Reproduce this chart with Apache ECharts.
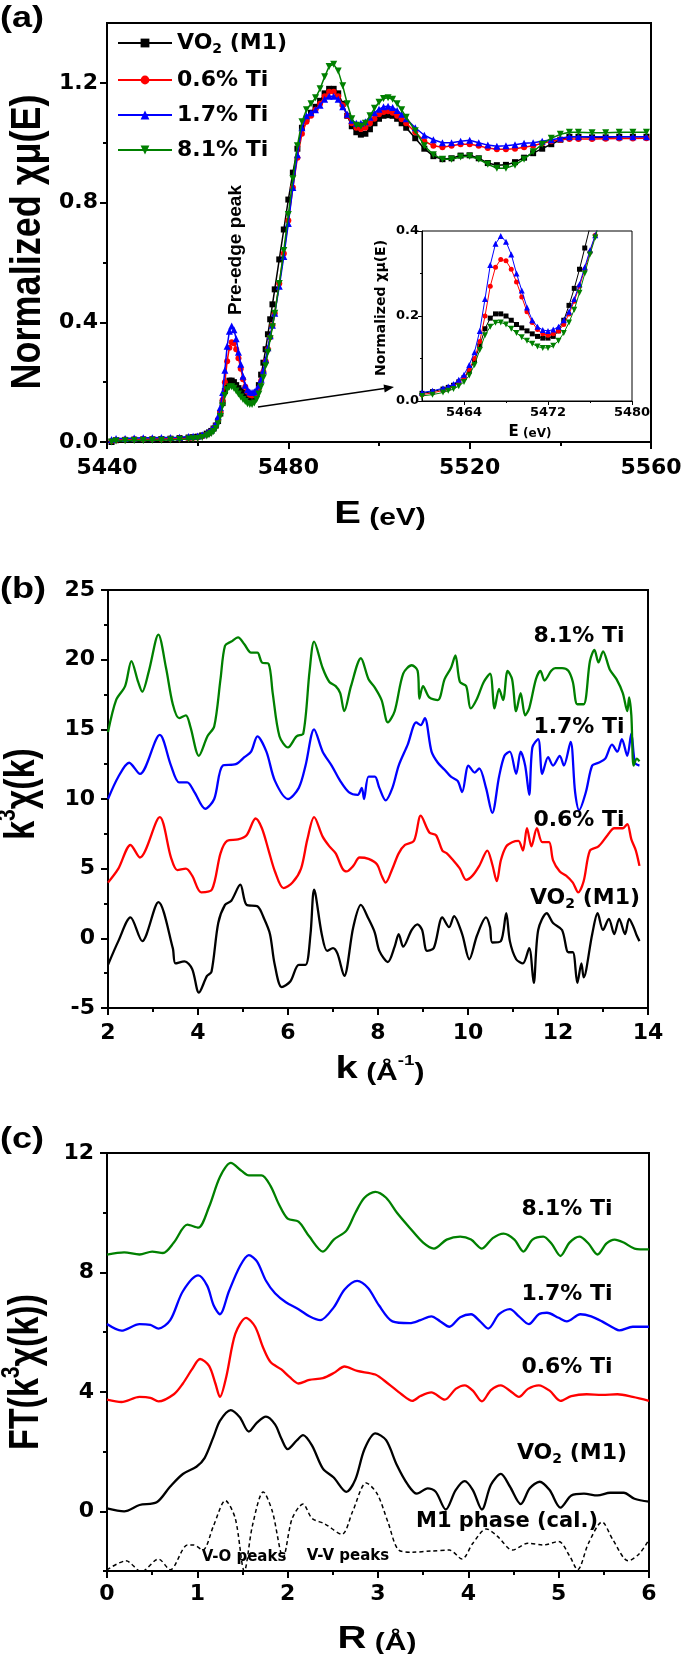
<!DOCTYPE html>
<html><head><meta charset="utf-8">
<script src="https://cdn.jsdelivr.net/npm/echarts@6/dist/echarts.min.js"></script>
<style>html,body{margin:0;padding:0;background:#fff}#c{width:685px;height:1654px}</style>
</head><body><div id="c"></div>
<script>
// ---------------- Panel (a): XANES ----------------
const aE = [5441,5442,5444,5446,5448,5450,5452,5454,5456,5458,5459,5460,5461,
  5462,5462.5,5463,5463.5,5464,5464.5,5465,5465.5,5466,5466.5,5467,5467.5,5468,5468.5,5469,5469.5,5470,5470.5,5471,5471.5,5472,5472.5,5473,5473.5,5474,5474.5,5475,5475.5,5476,5476.5,5477,
  5478,5479,5480,5481,5482,5483,5484,5485,5486,5487,5488,5489,5490,5491,5492,5493,5494,5495,5496,5497,5498,5499,5500,5501,5502,5503,5504,5505,5506,
  5508,5510,5512,5514,5516,5518,5520,5522,5524,5526,5528,5530,5532,5534,5536,5538,5540,5542,5544,5547,5550,5553,5556,5559];
const aVO2 = [0.000,0.006,0.007,0.008,0.009,0.009,0.010,0.011,0.013,0.015,0.016,0.018,0.022,
  0.028,0.032,0.037,0.045,0.055,0.070,0.095,0.130,0.170,0.195,0.205,0.205,0.200,0.190,0.180,0.172,0.165,0.158,0.152,0.148,0.148,0.152,0.165,0.190,0.225,0.265,0.310,0.360,0.410,0.460,0.510,
  0.610,0.710,0.810,0.900,0.980,1.050,1.080,1.100,1.120,1.140,1.165,1.180,1.180,1.165,1.130,1.090,1.055,1.035,1.027,1.030,1.045,1.065,1.080,1.090,1.092,1.090,1.080,1.065,1.050,
  1.015,0.980,0.955,0.945,0.948,0.957,0.958,0.948,0.932,0.925,0.926,0.935,0.950,0.965,0.980,0.995,1.010,1.020,1.020,1.018,1.018,1.020,1.020,1.020];
const aTi06 = [0.003,0.007,0.008,0.009,0.009,0.010,0.010,0.011,0.012,0.013,0.014,0.015,0.019,
  0.025,0.029,0.035,0.044,0.055,0.075,0.100,0.140,0.200,0.270,0.315,0.333,0.330,0.310,0.280,0.245,0.210,0.185,0.168,0.158,0.155,0.158,0.165,0.180,0.205,0.235,0.270,0.310,0.350,0.390,0.430,
  0.530,0.630,0.740,0.850,0.950,1.030,1.070,1.090,1.110,1.130,1.155,1.170,1.170,1.155,1.125,1.090,1.065,1.050,1.046,1.050,1.065,1.080,1.095,1.103,1.105,1.100,1.090,1.078,1.065,
  1.035,1.005,0.990,0.985,0.990,0.995,0.995,0.990,0.982,0.978,0.978,0.980,0.985,0.990,0.998,1.005,1.010,1.012,1.012,1.012,1.013,1.014,1.014,1.015];
const aTi17 = [0.008,0.012,0.012,0.013,0.014,0.014,0.015,0.015,0.016,0.018,0.019,0.020,0.024,
  0.030,0.034,0.040,0.050,0.062,0.085,0.115,0.165,0.240,0.320,0.370,0.388,0.375,0.345,0.300,0.260,0.220,0.190,0.175,0.167,0.165,0.168,0.175,0.190,0.210,0.240,0.275,0.315,0.355,0.390,0.430,
  0.520,0.620,0.730,0.850,0.960,1.050,1.090,1.100,1.110,1.125,1.145,1.155,1.155,1.145,1.120,1.095,1.075,1.065,1.065,1.070,1.085,1.100,1.112,1.120,1.122,1.118,1.108,1.095,1.080,
  1.050,1.025,1.010,1.000,1.000,1.005,1.008,1.000,0.992,0.988,0.990,0.993,0.998,1.000,1.005,1.010,1.015,1.020,1.020,1.020,1.020,1.020,1.020,1.020];
const aTi81 = [0.000,0.003,0.004,0.005,0.005,0.006,0.006,0.007,0.008,0.010,0.011,0.012,0.015,
  0.020,0.024,0.028,0.035,0.045,0.060,0.085,0.120,0.155,0.175,0.184,0.185,0.180,0.170,0.160,0.150,0.142,0.135,0.128,0.125,0.125,0.130,0.142,0.160,0.185,0.215,0.255,0.300,0.345,0.385,0.430,
  0.530,0.640,0.760,0.880,0.990,1.070,1.110,1.130,1.150,1.180,1.220,1.255,1.262,1.240,1.190,1.130,1.080,1.058,1.055,1.065,1.090,1.115,1.135,1.148,1.150,1.145,1.130,1.110,1.085,
  1.040,0.990,0.960,0.945,0.945,0.952,0.955,0.945,0.928,0.915,0.915,0.925,0.945,0.970,0.995,1.015,1.028,1.035,1.035,1.033,1.033,1.035,1.035,1.035];

// ---------------- Panel (b): k^3 chi(k) ----------------
const bK_vo2 = [2,2.23,2.5,2.76,3.12,3.44,3.5,3.7,3.87,4.02,4.2,4.3,4.45,4.6,4.74,4.94,5.08,5.32,5.47,5.6,5.7,5.86,6.05,6.24,6.39,6.5,6.58,6.75,6.87,7.0,7.1,7.25,7.45,7.62,7.79,7.93,8.03,8.22,8.37,8.46,8.56,8.75,8.88,8.98,9.09,9.24,9.43,9.58,9.69,9.87,10.03,10.2,10.4,10.49,10.54,10.73,10.85,10.93,11.07,11.22,11.36,11.46,11.56,11.75,11.89,12.09,12.23,12.33,12.43,12.52,12.57,12.76,12.88,13.0,13.13,13.25,13.36,13.49,13.58,13.68,13.75,13.81];
const bY_vo2 = [-1.9,-0.2,1.5,-0.2,2.6,-0.7,-1.8,-1.65,-2.2,-3.9,-2.7,-2.4,1.1,2.4,2.7,3.85,2.4,2.3,1.4,0.3,-1.8,-3.5,-3.1,-1.9,-1.9,0.3,3.5,0.3,-0.9,-0.7,-1.1,-2.7,0.8,2.4,1.4,0.4,-0.9,-1.7,-0.6,0.3,-0.6,0.6,1.0,0.6,-0.9,-0.7,1.5,0.8,1.6,0.3,-1.5,0.2,1.5,0.8,-0.3,-0.2,1.8,-0.2,-1.5,-1.8,-0.7,-3.2,0.6,1.8,1.1,0.6,-1.0,-1.0,-3.2,-1.8,-2.8,0.3,1.8,0.6,1.4,0.3,1.4,0.3,1.4,0.8,0.2,-0.2];
const bK_06 = [2,2.23,2.5,2.71,3.15,3.4,3.54,3.73,3.87,4.07,4.31,4.5,4.65,4.89,5.08,5.28,5.42,5.57,5.71,5.9,6.1,6.29,6.43,6.58,6.77,6.92,7.06,7.21,7.3,7.45,7.59,7.79,7.98,8.08,8.17,8.32,8.46,8.6,8.8,8.95,9.14,9.29,9.43,9.53,9.67,9.82,9.96,10.1,10.25,10.43,10.54,10.64,10.73,10.85,10.98,11.12,11.22,11.31,11.41,11.53,11.65,11.8,11.89,12.04,12.18,12.33,12.45,12.57,12.71,12.9,13.1,13.25,13.44,13.54,13.63,13.73,13.81];
const bY_06 = [4.0,5.0,6.7,5.8,8.7,5.8,4.9,5.0,4.5,3.3,3.5,6.1,7.0,7.1,7.4,8.6,7.9,6.3,4.8,3.6,4.0,5.0,7.1,8.7,7.3,6.6,6.1,5.0,4.8,5.2,5.8,5.7,5.3,4.5,4.0,5.0,6.1,6.7,7.0,8.8,7.6,7.4,6.3,6.1,5.6,5.0,4.2,4.5,5.2,6.3,5.3,4.1,5.6,6.6,6.9,7.0,6.3,7.9,6.6,7.9,6.9,6.9,5.6,4.8,4.5,4.0,3.3,4.1,6.3,6.6,7.4,7.9,7.9,8.2,7.1,6.3,5.2];
const bK_17 = [2,2.23,2.47,2.71,3.15,3.4,3.58,3.76,3.92,4.16,4.36,4.55,4.84,5.03,5.18,5.32,5.52,5.71,6.0,6.24,6.39,6.58,6.77,6.97,7.16,7.35,7.55,7.64,7.69,7.79,7.93,8.03,8.17,8.32,8.46,8.66,8.85,8.95,9.04,9.19,9.33,9.48,9.62,9.77,9.87,10.01,10.15,10.25,10.4,10.54,10.69,10.81,10.93,11.07,11.17,11.27,11.36,11.43,11.56,11.65,11.78,11.89,12.04,12.13,12.28,12.38,12.47,12.62,12.76,12.9,13.05,13.2,13.32,13.42,13.54,13.63,13.71,13.81];
const bY_17 = [10.0,11.6,12.6,11.8,14.6,12.4,11.2,11.2,10.5,9.3,10.0,12.4,12.5,13.0,13.4,14.5,13.4,11.3,10.0,10.8,12.4,15.0,13.4,12.4,11.3,10.5,10.3,10.8,10.0,11.6,11.6,10.8,9.9,10.8,12.4,13.9,15.5,15.3,15.8,13.4,12.6,12.1,11.6,11.3,10.5,12.4,11.9,12.2,10.8,9.0,11.6,13.1,13.4,11.8,13.4,12.4,10.3,13.7,14.3,11.8,13.0,12.4,13.1,12.4,14.1,10.5,9.2,10.5,12.4,12.6,12.9,13.9,13.4,14.3,13.1,14.7,12.6,12.4];
const bK_81 = [2,2.18,2.38,2.52,2.67,2.76,2.91,3.12,3.29,3.44,3.58,3.73,3.83,4.02,4.21,4.36,4.5,4.6,4.74,4.89,5.03,5.18,5.32,5.42,5.57,5.66,5.81,6.0,6.19,6.34,6.48,6.58,6.77,6.92,7.06,7.16,7.25,7.4,7.62,7.79,7.93,8.08,8.22,8.37,8.56,8.75,8.88,8.92,9.0,9.14,9.33,9.48,9.62,9.72,9.82,9.96,10.06,10.2,10.35,10.49,10.59,10.69,10.78,10.88,10.98,11.07,11.17,11.27,11.36,11.51,11.61,11.7,11.85,11.94,12.09,12.23,12.33,12.43,12.57,12.71,12.81,12.9,13.0,13.15,13.3,13.44,13.54,13.58,13.63,13.68,13.75,13.81];
const bY_81 = [14.8,17.1,18.1,19.9,18.4,17.7,19.2,21.8,19.4,16.8,15.8,16.0,15.2,13.1,14.5,15.2,18.6,21.0,21.3,21.6,21.1,20.5,20.5,19.8,19.7,17.6,14.5,13.7,14.5,14.7,19.2,21.3,19.4,18.4,18.1,17.6,16.3,18.1,20.1,18.6,18.0,17.1,15.5,16.3,19.0,19.6,19.2,17.2,18.1,17.3,17.1,18.6,19.4,20.3,18.4,18.1,16.5,17.2,18.4,19.0,16.5,17.9,17.1,19.2,18.6,16.3,17.6,16.0,16.5,18.6,19.2,18.5,19.2,19.4,19.4,19.2,18.4,16.8,16.8,19.9,20.7,19.8,20.6,19.3,18.6,17.6,16.3,17.3,16.0,12.4,12.9,12.7];

// ---------------- Panel (c): FT ----------------
const cR_81 = [0,0.19,0.36,0.5,0.62,0.74,0.89,1.01,1.13,1.25,1.37,1.49,1.57,1.71,1.81,1.9,2.0,2.12,2.24,2.39,2.51,2.65,2.75,2.85,2.97,3.09,3.21,3.35,3.5,3.62,3.76,3.91,4.03,4.15,4.27,4.39,4.51,4.61,4.71,4.83,4.92,5.02,5.12,5.23,5.33,5.43,5.53,5.62,5.72,5.84,6.0];
const cY_81 = [8.6,8.67,8.6,8.7,8.65,9.0,9.6,9.5,10.2,11.2,11.67,11.4,11.25,11.25,10.9,10.3,9.8,9.7,9.2,8.7,9.1,9.4,10.0,10.5,10.7,10.5,10.0,9.5,9.0,8.8,9.1,9.2,9.1,8.8,9.15,9.3,9.1,8.7,9.1,9.2,8.97,8.55,9.0,9.2,8.97,8.6,8.97,9.1,9.0,8.8,8.77];
const cR_17 = [0,0.16,0.36,0.48,0.57,0.7,0.84,1.01,1.11,1.18,1.25,1.35,1.47,1.57,1.66,1.76,1.86,1.98,2.12,2.24,2.36,2.51,2.63,2.77,2.89,3.01,3.16,3.35,3.47,3.59,3.69,3.79,3.91,4.03,4.13,4.22,4.34,4.46,4.56,4.67,4.78,4.87,5.0,5.09,5.24,5.36,5.48,5.62,5.67,5.82,6.0];
const cY_17 = [6.27,6.05,6.27,6.24,6.12,6.4,7.37,7.9,7.55,6.9,6.6,7.37,8.2,8.58,8.37,7.72,7.3,7.0,6.77,6.53,6.4,6.83,7.43,7.72,7.48,6.9,6.36,6.3,6.4,6.53,6.36,6.18,6.5,6.6,6.36,6.12,6.6,6.77,6.53,6.27,6.6,6.65,6.48,6.36,6.6,6.53,6.36,6.12,6.06,6.18,6.18];
const cR_06 = [0,0.16,0.36,0.48,0.57,0.74,0.84,0.94,1.03,1.13,1.2,1.25,1.32,1.42,1.54,1.64,1.73,1.81,1.93,2.02,2.12,2.24,2.39,2.51,2.63,2.77,2.97,3.11,3.26,3.38,3.47,3.59,3.74,3.86,3.96,4.05,4.15,4.25,4.36,4.46,4.56,4.66,4.78,4.9,5.02,5.14,5.31,5.48,5.65,5.82,6.0];
const cY_06 = [3.74,3.66,3.83,3.8,3.68,3.92,4.28,4.75,5.1,4.87,4.28,3.83,4.5,5.94,6.48,6.18,5.47,5.0,4.75,4.5,4.28,4.4,4.46,4.63,4.85,4.7,4.58,4.28,3.92,3.7,3.86,3.98,3.74,4.1,4.22,4.04,3.68,4.06,4.22,4.04,3.83,4.1,4.22,4.04,3.7,3.86,3.92,3.9,3.92,3.83,3.7];
const cR_vo2 = [0,0.19,0.36,0.55,0.7,0.84,0.99,1.08,1.18,1.25,1.37,1.47,1.57,1.66,1.76,1.86,1.93,2.0,2.1,2.17,2.27,2.39,2.51,2.65,2.75,2.85,2.97,3.09,3.21,3.33,3.43,3.55,3.64,3.75,3.86,3.96,4.05,4.15,4.25,4.36,4.46,4.58,4.68,4.79,4.9,5.02,5.14,5.28,5.43,5.57,5.72,5.84,6.0];
const cY_vo2 = [0.1,0.0,0.21,0.3,0.83,1.25,1.49,1.78,2.5,3.03,3.39,3.15,2.67,2.97,3.17,2.91,2.44,2.08,2.37,2.55,2.2,1.43,1.13,0.65,1.07,2.08,2.61,2.38,1.54,0.89,0.59,0.77,0.65,0.06,0.71,1.01,0.71,0.06,0.89,1.25,0.83,0.24,0.77,0.99,0.71,0.12,0.53,0.59,0.53,0.62,0.62,0.42,0.32];
const cR_cal = [0,0.21,0.38,0.57,0.7,0.89,0.96,1.06,1.18,1.31,1.42,1.52,1.61,1.73,1.83,1.95,2.05,2.17,2.27,2.41,2.6,2.72,2.87,2.99,3.11,3.23,3.38,3.59,3.79,3.93,4.05,4.2,4.32,4.49,4.66,4.83,5.0,5.12,5.21,5.33,5.48,5.6,5.77,5.89,6.0];
const cY_cal = [-1.96,-1.66,-2.02,-1.6,-1.96,-1.13,-1.13,-1.3,-0.48,0.36,-0.24,-2.0,-0.48,0.65,0.0,-1.54,-0.24,0.24,-0.24,-0.42,-0.77,0.0,0.95,0.59,-0.36,-1.3,-1.37,-1.33,-1.3,-1.6,-1.07,-0.59,-0.83,-1.3,-1.07,-1.13,-1.01,-1.49,-1.96,-1.07,-0.36,-0.95,-1.66,-1.43,-0.95];

// tick labels
const aYLabels = [0, 0.4, 0.8, 1.2];
const aYMinor = [0.2, 0.6, 1.0];
const insetXLabels = [5464, 5472, 5480];
const insetXMinor = [5468, 5476];
const cYLabels = [0, 4, 8, 12];
const cYMinor = [-2, 2, 6, 10];

const names = ['VO2 (M1)', '0.6% Ti', '1.7% Ti', '8.1% Ti'];
const colors = ['#000000', '#ff0000', '#0000ff', '#008000'];

// ---------------- chart ----------------
const FT = 'DejaVu Sans';
const FA = 'Liberation Sans';
const chart = echarts.init(document.getElementById('c'), null, {renderer: 'canvas', width: 685, height: 1654});
function pairs(xs, ys) { return xs.map((x, i) => [x, ys[i]]); }
const plain = v => String(v);

function valAxis(gridIndex, min, max, interval, o) {
  o = o || {};
  const w = o.w || 2;
  const tick = {show: true, length: o.tick || 7, lineStyle: {color: '#000', width: w}};
  if (o.tickValues) tick.customValues = o.tickValues;
  const lab = {show: o.label !== false, color: '#000', fontFamily: FT, fontWeight: 'bold',
    fontSize: o.fs || 22, margin: o.margin || 10, formatter: o.fmt || plain};
  if (o.labelValues) lab.customValues = o.labelValues;
  return {
    type: 'value', gridIndex, min, max, interval, position: o.position,
    axisLine: {show: true, onZero: false, lineStyle: {color: '#000', width: w}},
    axisTick: tick,
    minorTick: {show: o.minor !== false, splitNumber: 2, length: o.minorLen || 4, lineStyle: {color: '#000', width: w}},
    splitLine: {show: false}, minorSplitLine: {show: false},
    axisLabel: lab
  };
}
function tickOnly(gridIndex, min, max, values, position, len, w) {
  return {type: 'value', gridIndex, min, max, position,
    axisLine: {show: false, onZero: false}, axisLabel: {show: false},
    splitLine: {show: false},
    axisTick: {show: true, length: len, customValues: values, lineStyle: {color: '#000', width: w}}};
}

const grids = [
  {left: 107, top: 23, width: 544, height: 419},
  {left: 422, top: 231, width: 210, height: 170},
  {left: 108, top: 590, width: 540, height: 418},
  {left: 107, top: 1153, width: 542, height: 418}
].map((g, i) => Object.assign(g, {show: true, borderColor: '#000', borderWidth: i === 1 ? 1 : 2,
  backgroundColor: i === 1 ? '#fff' : 'transparent', outerBoundsMode: 'none', containLabel: false}));

const xAxes = [
  valAxis(0, 5440, 5560, 40, {position: 'bottom', margin: 15, fs: 22}),
  valAxis(1, 5460, 5480, 4, {position: 'bottom', w: 1, tick: 4, minor: false, tickValues: insetXLabels, labelValues: insetXLabels, fs: 13, margin: 5}),
  tickOnly(1, 5460, 5480, insetXMinor, 'bottom', 2, 1),
  valAxis(2, 2, 14, 2, {position: 'bottom', margin: 14}),
  valAxis(3, 0, 6, 1, {position: 'bottom', margin: 12})
];
const yAxes = [
  valAxis(0, 0, 1.4, 0.2, {position: 'left', minor: false, tickValues: aYLabels, labelValues: aYLabels, fmt: v => Number(v).toFixed(1), margin: 9}),
  tickOnly(0, 0, 1.4, aYMinor, 'left', 4, 2),
  valAxis(1, 0, 0.4, 0.2, {position: 'left', w: 1, tick: 4, minorLen: 2, fs: 13, fmt: v => Number(v).toFixed(1), margin: 3}),
  valAxis(2, -5, 25, 5, {position: 'left', margin: 13}),
  valAxis(3, -2, 12, 2, {position: 'left', minor: false, tickValues: cYLabels, labelValues: cYLabels, margin: 13}),
  tickOnly(3, -2, 12, cYMinor, 'left', 4, 2)
];

const aData = [aVO2, aTi06, aTi17, aTi81];
const syms = ['rect', 'circle', 'triangle', 'triangle'];
const rots = [0, 0, 0, 180];
const series = [];
aData.forEach((ys, i) => {
  series.push({name: names[i], type: 'line', xAxisIndex: 0, yAxisIndex: 0, data: pairs(aE, ys),
    symbol: syms[i], symbolRotate: rots[i], symbolSize: i >= 2 ? 7 : 6, showSymbol: true,
    lineStyle: {color: colors[i], width: 1.5}, itemStyle: {color: colors[i]}, z: 2 + i, clip: true});
});
aData.forEach((ys, i) => {
  series.push({name: names[i], type: 'line', xAxisIndex: 1, yAxisIndex: 2, data: pairs(aE, ys),
    symbol: syms[i], symbolRotate: rots[i], symbolSize: i >= 2 ? 6 : 5, showSymbol: true,
    lineStyle: {color: colors[i], width: 1}, itemStyle: {color: colors[i]}, z: 10 + i, clip: true});
});
const bSets = [[bK_vo2, bY_vo2], [bK_06, bY_06], [bK_17, bY_17], [bK_81, bY_81]];
bSets.forEach((s, i) => {
  series.push({name: 'k3chi ' + names[i], type: 'line', xAxisIndex: 3, yAxisIndex: 3, data: pairs(s[0], s[1]),
    showSymbol: false, smooth: 0.3, lineStyle: {color: colors[i], width: 2.3}, clip: true});
});
const cSets = [[cR_vo2, cY_vo2], [cR_06, cY_06], [cR_17, cY_17], [cR_81, cY_81]];
cSets.forEach((s, i) => {
  series.push({name: 'FT ' + names[i], type: 'line', xAxisIndex: 4, yAxisIndex: 4, data: pairs(s[0], s[1]),
    showSymbol: false, smooth: 0.3, lineStyle: {color: colors[i], width: 2.3}, clip: true});
});
series.push({name: 'M1 phase (cal.)', type: 'line', xAxisIndex: 4, yAxisIndex: 4, data: pairs(cR_cal, cY_cal),
  showSymbol: false, smooth: 0.3, lineStyle: {color: '#000', width: 1.5, type: [4, 3]}, clip: true});

const richBase = {
  t: {fontSize: 22, fontFamily: FT, fontWeight: 'bold', color: '#000'},
  s: {fontSize: 14, fontFamily: FT, fontWeight: 'bold', color: '#000', padding: [12, 0, 0, 0]}
};

chart.setOption({
  animation: false,
  backgroundColor: '#fff',
  grid: grids,
  xAxis: xAxes,
  yAxis: yAxes,
  legend: {
    data: names, orient: 'vertical', left: 112, top: 27, itemWidth: 54, itemHeight: 11, itemGap: 13,
    selectedMode: false,
    formatter: n => n === 'VO2 (M1)' ? '{t|VO}{s|2}{t| (M1)}' : '{t|' + n + '}',
    textStyle: {color: '#000', fontFamily: FT, fontWeight: 'bold', fontSize: 22, rich: richBase}
  },
  series: series
});

function txt(x, y, text, o) {
  o = o || {};
  const st = {text, fill: '#000', align: o.align || 'center', verticalAlign: 'middle',
    fontFamily: o.ff || FT, fontWeight: o.fw || 'bold', fontSize: o.fs || 22};
  if (o.rich) st.rich = o.rich;
  return {type: 'text', x, y, rotation: o.rot || 0, scaleX: o.sx || 1, scaleY: o.sy || 1, z: 100, style: st};
}
const R90 = Math.PI / 2;
const bigTitle = {
  b: {fontSize: 34, fontFamily: FA, fontWeight: 'bold', color: '#000'},
  s: {fontSize: 21, fontFamily: FA, fontWeight: 'bold', color: '#000', padding: [0, 0, 22, 0]}
};
const xTitle = {
  b: {fontSize: 32, fontFamily: FA, fontWeight: 'bold', color: '#000', verticalAlign: 'bottom'},
  m: {fontSize: 24, fontFamily: FA, fontWeight: 'bold', color: '#000', verticalAlign: 'bottom'},
  s: {fontSize: 15, fontFamily: FA, fontWeight: 'bold', color: '#000', verticalAlign: 'top'}
};
const lab = {
  t: {fontSize: 22, fontFamily: FT, fontWeight: 'bold', color: '#000'},
  s: {fontSize: 14, fontFamily: FT, fontWeight: 'bold', color: '#000', padding: [12, 0, 0, 0]}
};

// arrow from pre-edge region towards the inset
const p0 = chart.convertToPixel({xAxisIndex: 0, yAxisIndex: 0}, [5473.3, 0.117]);
const p1 = chart.convertToPixel({xAxisIndex: 1, yAxisIndex: 2}, [5460, 0.033]);
p1[0] -= 28;
const dx = p1[0] - p0[0], dy = p1[1] - p0[1], L = Math.hypot(dx, dy);
const ux = dx / L, uy = dy / L, nx = -uy, ny = ux;
const hb = [p1[0] - 10 * ux, p1[1] - 10 * uy];

const graphics = [
  // panel (a)
  txt(0, 19, '(a)', {align: 'left', ff: FA, fs: 30, sx: 1.2}),
  txt(28, 242, 'Normalized χμ(E)', {rot: R90, ff: FA, fs: 36, sy: 1.2}),
  txt(380, 514, '{b|E}{m| (eV)}', {sx: 1.25, rich: xTitle}),
  txt(236, 250, 'Pre-edge peak', {rot: R90, ff: FA, fs: 19}),
  txt(381, 308, 'Normalized χμ(E)', {rot: R90, fs: 14}),
  txt(530, 432, '{b|E}{m| (eV)}', {rich: {
    b: {fontSize: 15, fontFamily: FT, fontWeight: 'bold', color: '#000', verticalAlign: 'bottom'},
    m: {fontSize: 12, fontFamily: FT, fontWeight: 'bold', color: '#000', verticalAlign: 'bottom'}}}),
  {type: 'polyline', z: 100, shape: {points: [p0, hb]}, style: {stroke: '#000', lineWidth: 1.5, fill: null}},
  {type: 'polygon', z: 100, shape: {points: [p1, [hb[0] + 4 * nx, hb[1] + 4 * ny], [hb[0] - 4 * nx, hb[1] - 4 * ny]]}, style: {fill: '#000'}},
  // panel (b)
  txt(0, 590, '(b)', {align: 'left', ff: FA, fs: 30, sx: 1.2}),
  txt(22, 794, '{b|k}{s|3}{b|χ(k)}', {rot: R90, sy: 1.25, rich: bigTitle}),
  txt(380, 1069, '{b|k}{m| (Å}{s|-1}{m|)}', {sx: 1.25, rich: xTitle}),
  txt(579, 636, '8.1% Ti'),
  txt(579, 727, '1.7% Ti'),
  txt(579, 820, '0.6% Ti'),
  txt(585, 898, '{t|VO}{s|2}{t| (M1)}', {rich: lab}),
  // panel (c)
  txt(0, 1140, '(c)', {align: 'left', ff: FA, fs: 30, sx: 1.2}),
  txt(26, 1372, '{b|FT(k}{s|3}{b|χ(k))}', {rot: R90, sy: 1.25, rich: bigTitle}),
  txt(377, 1639, '{b|R}{m| (Å)}', {sx: 1.25, rich: xTitle}),
  txt(567, 1209, '8.1% Ti'),
  txt(567, 1294, '1.7% Ti'),
  txt(567, 1367, '0.6% Ti'),
  txt(572, 1453, '{t|VO}{s|2}{t| (M1)}', {rich: lab}),
  txt(507, 1522, 'M1 phase (cal.)', {fs: 21}),
  txt(244, 1557, 'V-O peaks', {fs: 15}),
  txt(348, 1556, 'V-V peaks', {fs: 15})
];
chart.setOption({graphic: graphics});
</script>
</body></html>
